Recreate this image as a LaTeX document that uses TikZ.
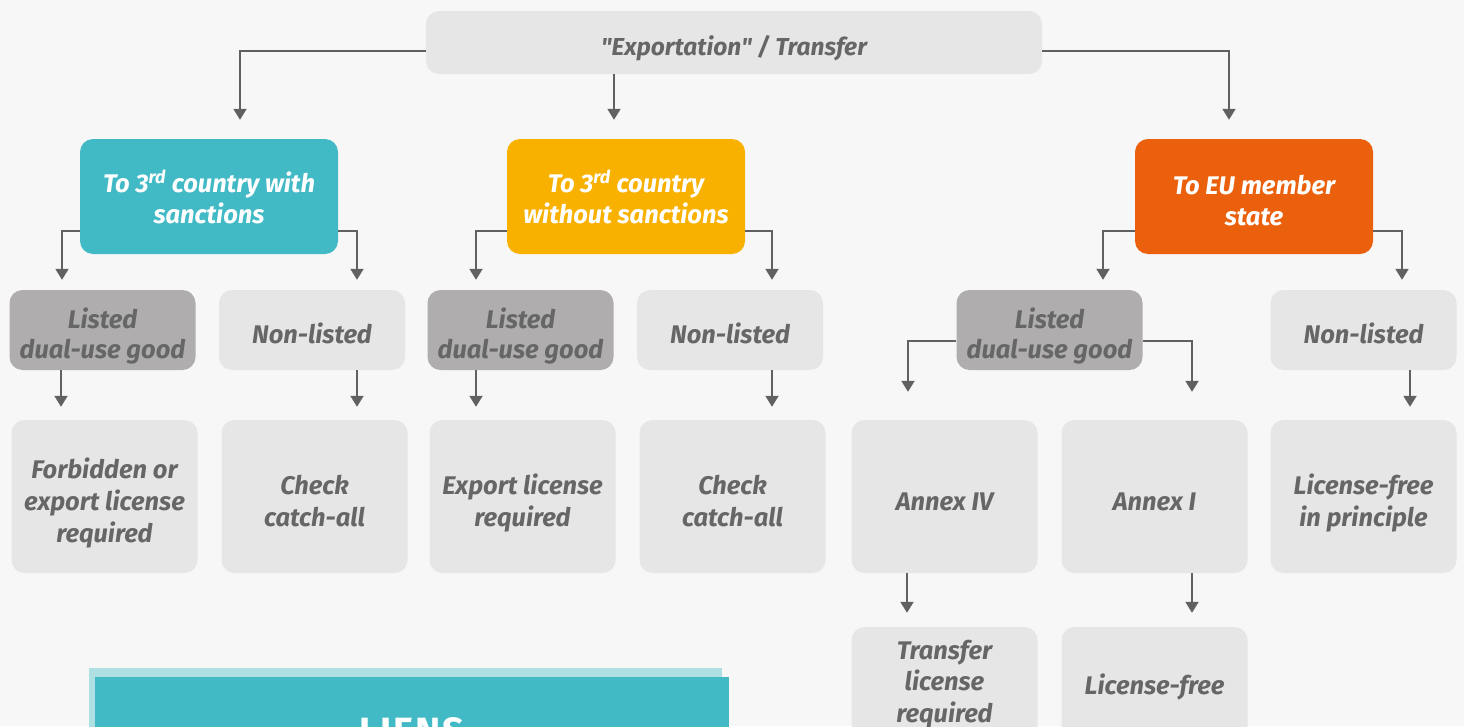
\documentclass[tikz,border=0pt]{standalone}
\usepackage{fontspec}
\setmainfont{Fira Sans}
\usetikzlibrary{arrows.meta}
\definecolor{bgcol}{HTML}{F7F7F7}
\definecolor{boxcol}{HTML}{E6E6E6}
\definecolor{listcol}{HTML}{AFADAE}
\definecolor{txtcol}{HTML}{666666}
\definecolor{linecol}{HTML}{616161}
\definecolor{tealcol}{HTML}{42BAC6}
\definecolor{orgcol}{HTML}{F9B100}
\definecolor{redcol}{HTML}{EB600C}
\definecolor{paletealcol}{HTML}{AEDFE2}
\newcommand\straightquote{\XeTeXglyph\the\XeTeXcharglyph"22\relax}
\newcommand\lift[1][33pt]{\rule{0pt}{#1}}

\tikzset{
  box/.style={fill=boxcol, rounded corners=13pt, inner sep=0pt, align=center,
    text=txtcol, font=\fontsize{25.5}{32}\selectfont\bfseries\itshape,
    execute at begin node={\rule{0pt}{28pt}}},
  small/.style={box, minimum width=186pt, minimum height=80pt},
  tall/.style={box, minimum width=186pt, minimum height=153pt},
  listed/.style={small, fill=listcol, font=\fontsize{25.5}{29.5}\selectfont\bfseries\itshape},
  dest/.style={box, text=white, minimum width=238pt, minimum height=115pt,
    font=\fontsize{25.5}{31}\selectfont\bfseries\itshape},
  arr/.style={draw=linecol, line width=2pt, -{Triangle[width=13pt,length=11pt]}}
}

\begin{document}
\begin{tikzpicture}[x=1pt,y=-1pt]
  %frame
  \clip (0,0) rectangle (1464,726);
  \fill[bgcol] (0,0) rectangle (1464,726);

  %top
  \node[box, minimum width=616pt, minimum height=63pt,
    font=\fontsize{24.5}{28}\selectfont\bfseries\itshape] (top) at (734,42.5)
    {\lift[32pt]\straightquote Exportation\straightquote\ / Transfer};

  %destinations
  \node[dest, fill=tealcol, minimum width=258pt] (sanc) at (209,196.5)
    {\lift[24pt]To 3\textsuperscript{rd} country with\\sanctions};
  \node[dest, fill=orgcol] (nosanc) at (626,196.5)
    {\lift[24pt]To 3\textsuperscript{rd} country\\without sanctions};
  \node[dest, fill=redcol] (eu) at (1254,196.5) {\lift[27pt]To EU member\\state};

  %listed / non-listed
  \node[listed] (listA) at (102.5,330) {\lift Listed\\dual-use good};
  \node[small]  (nonA)  at (312,330)   {Non-listed};
  \node[listed] (listB) at (520.5,330) {\lift Listed\\dual-use good};
  \node[small]  (nonB)  at (730,330)   {Non-listed};
  \node[listed] (listC) at (1049.5,330) {\lift Listed\\dual-use good};
  \node[small]  (nonC)  at (1363.5,330) {Non-listed};

  %results
  \node[tall] (forbid)  at (104.5,496.5) {\lift Forbidden or\\export license\\required};
  \node[tall] (checkA)  at (314.5,496.5) {\lift[29pt]Check\\catch-all};
  \node[tall] (expo)    at (522.5,496.5) {\lift Export license\\required};
  \node[tall] (checkB)  at (732.5,496.5) {\lift[29pt]Check\\catch-all};
  \node[tall] (annexIV) at (944.5,496.5) {Annex IV};
  \node[tall] (annexI)  at (1154.5,496.5) {Annex I};
  \node[tall] (free)    at (1363.5,496.5) {\lift License-free\\in principle};

  %transfer
  \node[box, minimum width=186pt, minimum height=112pt,
    font=\fontsize{25.5}{31.5}\selectfont\bfseries\itshape] (transfer) at (944.5,683)
    {\lift[21pt]Transfer\\license\\required};
  \node[box, minimum width=186pt, minimum height=112pt,
    execute at begin node={\rule{0pt}{22pt}}] (lfree) at (1154.5,683)
    {License-free};

  %arrows from top
  \draw[arr] ([yshift=-8.5pt]top.west) -| ([xshift=31pt,yshift=19pt]sanc.north);
  \draw[arr] ([xshift=-120pt]top.south) -- ([xshift=-12pt,yshift=19pt]nosanc.north);
  \draw[arr] ([yshift=-8.5pt]top.east) -| ([xshift=-25pt,yshift=19pt]eu.north);

  %arrows from destinations
  \draw[arr] ([yshift=23pt]sanc.south west) -| ([xshift=-40.5pt,yshift=10pt]listA.north);
  \draw[arr] ([yshift=23pt]sanc.south east) -| ([xshift=45pt,yshift=10pt]nonA.north);
  \draw[arr] ([yshift=23pt]nosanc.south west) -| ([xshift=-44.5pt,yshift=10pt]listB.north);
  \draw[arr] ([yshift=23pt]nosanc.south east) -| ([xshift=42pt,yshift=10pt]nonB.north);
  \draw[arr] ([yshift=23pt]eu.south west) -| ([xshift=53.5pt,yshift=10pt]listC.north);
  \draw[arr] ([yshift=23pt]eu.south east) -| ([xshift=38.5pt,yshift=10pt]nonC.north);

  %arrows to results
  \draw[arr] ([xshift=-41.5pt]listA.south) -- ([xshift=-43.5pt,yshift=13pt]forbid.north);
  \draw[arr] ([xshift=45pt]nonA.south) -- ([xshift=42.5pt,yshift=13pt]checkA.north);
  \draw[arr] ([xshift=-44.5pt]listB.south) -- ([xshift=-46.5pt,yshift=13pt]expo.north);
  \draw[arr] ([xshift=42pt]nonB.south) -- ([xshift=39.5pt,yshift=13pt]checkB.north);
  \draw[arr] ([xshift=46.5pt]nonC.south) -- ([xshift=46.5pt,yshift=13pt]free.north);
  \draw[arr] ([yshift=-11pt]listC.west) -| ([xshift=-36.5pt,yshift=28pt]annexIV.north);
  \draw[arr] ([yshift=-11pt]listC.east) -| ([xshift=37.5pt,yshift=28pt]annexI.north);

  %annex arrows
  \draw[arr] ([xshift=-37.5pt]annexIV.south) -- ([xshift=-37.5pt,yshift=14pt]transfer.north);
  \draw[arr] ([xshift=37.5pt]annexI.south) -- ([xshift=37.5pt,yshift=14pt]lfree.north);

  %liens
  \fill[paletealcol] (89,668) rectangle (722,760);
  \fill[tealcol] (95,677) rectangle (729,760);
  \node[text=white, font=\fontsize{38}{40}\selectfont\bfseries\addfontfeature{LetterSpace=5}, anchor=base]
    (liens) at (412,744) {LIENS};
\end{tikzpicture}
\end{document}
